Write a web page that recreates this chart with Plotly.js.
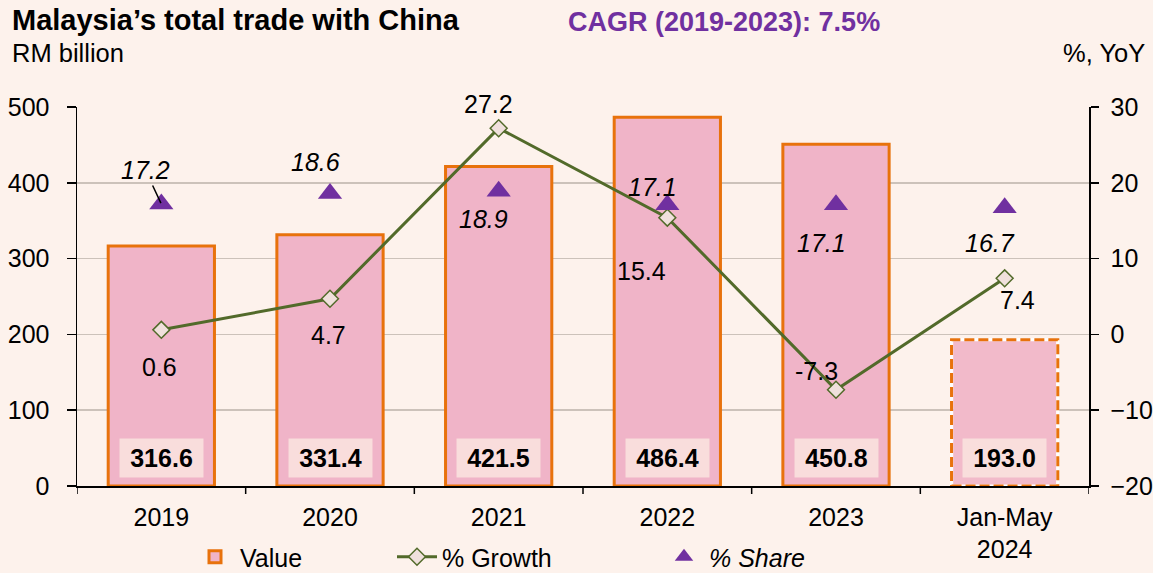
<!DOCTYPE html>
<html>
<head>
<meta charset="utf-8">
<script src="https://cdn.plot.ly/plotly-3.0.1.min.js"></script>
<style>html,body{margin:0;padding:0;background:#FDF2EC;}#chart{width:1153px;height:573px;}</style>
</head>
<body>
<div id="chart"></div>
<script>
// ---- data ----
const categories = ["2019", "2020", "2021", "2022", "2023", "Jan-May<br>2024"];
const tradeValue = [316.6, 331.4, 421.5, 486.4, 450.8, 193.0];
const growthPct = [0.6, 4.7, 27.2, 15.4, -7.3, 7.4];
const sharePct = [17.2, 18.6, 18.9, 17.1, 17.1, 16.7];
const valueLabels = ["316.6", "331.4", "421.5", "486.4", "450.8", "193.0"];
const growthLabels = ["0.6", "4.7", "27.2", "15.4", "-7.3", "7.4"];
const shareLabels = ["17.2", "18.6", "18.9", "17.1", "17.1", "16.7"];
const leftTicks = [0, 100, 200, 300, 400, 500];
const rightTicks = [-20, -10, 0, 10, 20, 30];

// ---- style ----
const FONT = "Liberation Sans, Arial, sans-serif";
const FS = 25;
const BG = "#FDF2EC";
const BAR_FILL = "#F0B4C8";
const BAR_LINE = "#E8720C";
const GREEN = "#526A2A";
const PURPLE = "#7030A0";
const BARW = 0.63;
const nFull = tradeValue.length - 1;

// offsets of labels (pixels)
const growthOff = [[-2, -37], [-2, -36], [-10, 24], [-26, -53], [-20, 19], [13, -22]];
const shareOff = [[-16, 34], [-15, 31], [-15, -28], [-15, 18], [-15, -38], [-15, -35]];

const idx = categories.map((_, i) => i);

const traces = [
  {
    type: "bar", x: idx.slice(0, nFull), y: tradeValue.slice(0, nFull), width: BARW,
    name: "Value", legend: "legend",
    marker: {color: BAR_FILL, line: {color: BAR_LINE, width: 3}},
    hoverinfo: "skip"
  },
  {
    type: "bar", x: [nFull], y: [tradeValue[nFull]], width: BARW - 0.02,
    name: "Value", showlegend: false,
    marker: {color: "#F2BACA", line: {width: 0}}, hoverinfo: "skip"
  },
  {
    type: "scatter", mode: "lines+markers", x: idx, y: growthPct, yaxis: "y2",
    name: "% Growth", legend: "legend2",
    line: {color: GREEN, width: 3},
    marker: {symbol: "diamond", size: 13, color: "#F0E0DC", line: {color: GREEN, width: 1.5}},
    hoverinfo: "skip"
  },
  {
    type: "scatter", mode: "markers", x: idx, y: sharePct, yaxis: "y2",
    name: "<i>% Share</i>", legend: "legend3",
    marker: {symbol: "triangle-up", size: 21, color: PURPLE},
    hoverinfo: "skip"
  }
];

const annotations = [];
// value boxes
idx.forEach(i => {
  annotations.push({
    x: i, y: 0, xref: "x", yref: "y", yanchor: "middle", yshift: 28,
    text: "<b>" + valueLabels[i] + "</b>", showarrow: false,
    font: {family: FONT, size: FS, color: "#000"},
    bgcolor: "rgba(251,232,226,0.78)", borderpad: 4, width: 75, height: 30
  });
});
// growth labels
idx.forEach(i => {
  annotations.push({
    x: i, y: growthPct[i], xref: "x", yref: "y2",
    xshift: growthOff[i][0], yshift: growthOff[i][1],
    text: growthLabels[i], showarrow: false,
    font: {family: FONT, size: FS, color: "#000"}
  });
});
// share labels
idx.forEach(i => {
  if (i === 0) {
    annotations.push({
      x: i, y: sharePct[i], xref: "x", yref: "y2",
      ax: shareOff[i][0], ay: -shareOff[i][1], axref: "pixel", ayref: "pixel",
      text: "<i>" + shareLabels[i] + "</i>", showarrow: true,
      arrowhead: 0, arrowwidth: 1.5, arrowcolor: "#000", standoff: 1,
      font: {family: FONT, size: FS, color: "#000"}
    });
  } else {
    annotations.push({
      x: i, y: sharePct[i], xref: "x", yref: "y2",
      xshift: shareOff[i][0], yshift: shareOff[i][1],
      text: "<i>" + shareLabels[i] + "</i>", showarrow: false,
      font: {family: FONT, size: FS, color: "#000"}
    });
  }
});
// titles
const L = 77, R = 1089, T = 107, B = 486;
const px = v => (v - L) / (R - L);
const py = v => (B - v) / (B - T);
annotations.push(
  {xref: "paper", yref: "paper", x: px(10), y: py(20), xanchor: "left", yanchor: "middle",
   text: "<b>Malaysia’s total trade with China</b>", showarrow: false,
   font: {family: FONT, size: 29, color: "#000"}},
  {xref: "paper", yref: "paper", x: px(566), y: py(22), xanchor: "left", yanchor: "middle",
   text: "<b>CAGR (2019-2023): 7.5%</b>", showarrow: false,
   font: {family: FONT, size: 27, color: PURPLE}},
  {xref: "paper", yref: "paper", x: px(10), y: py(53), xanchor: "left", yanchor: "middle",
   text: "RM billion", showarrow: false,
   font: {family: FONT, size: 25.5, color: "#000"}},
  {xref: "paper", yref: "paper", x: px(1147), y: py(53), xanchor: "right", yanchor: "middle",
   text: "%, YoY", showarrow: false,
   font: {family: FONT, size: 25.5, color: "#000"}}
);

const shapes = [
  {
    type: "rect", xref: "x", yref: "y",
    x0: nFull - BARW / 2, x1: nFull + BARW / 2, y0: 0, y1: tradeValue[nFull],
    line: {color: "#FFFFFF", width: 3}, fillcolor: "rgba(0,0,0,0)"
  },
  {
    type: "rect", xref: "x", yref: "y",
    x0: nFull - BARW / 2, x1: nFull + BARW / 2, y0: 0, y1: tradeValue[nFull],
    line: {color: BAR_LINE, width: 3, dash: "10px,4px"}, fillcolor: "rgba(0,0,0,0)"
  }
];

const legendBase = {
  orientation: "h", yanchor: "middle", xanchor: "left", bgcolor: "rgba(0,0,0,0)",
  font: {family: FONT, size: FS, color: "#000"}, itemwidth: 40
};

const layout = {
  width: 1153, height: 573,
  paper_bgcolor: BG, plot_bgcolor: BG,
  margin: {l: L, r: 1153 - R, t: T, b: 573 - B, autoexpand: false},
  showlegend: true,
  xaxis: {
    type: "linear", range: [-0.5, 5.5], tickmode: "array", tickvals: idx, ticktext: categories,
    showgrid: false, zeroline: false, showline: true, linecolor: "#000", linewidth: 1.5,
    ticks: "", tickfont: {family: FONT, size: FS, color: "#000"}, ticklabelstandoff: 8,
    automargin: false
  },
  yaxis: {
    range: [0, 500], tickmode: "array", tickvals: leftTicks, ticks: "outside", ticklen: 9,
    tickcolor: "#000", tickwidth: 1.5, showline: true, linecolor: "#000", linewidth: 1.5,
    showgrid: true, gridcolor: "#CCC2BA", gridwidth: 1.5, zeroline: false,
    tickfont: {family: FONT, size: FS, color: "#000"}, ticklabelstandoff: 12, automargin: false
  },
  yaxis2: {
    overlaying: "y", side: "right", range: [-20, 30], tickmode: "array", tickvals: rightTicks,
    ticks: "outside", ticklen: 8, tickcolor: "#000", tickwidth: 1.5,
    showline: true, linecolor: "#000", linewidth: 1.5, showgrid: false, zeroline: false,
    tickfont: {family: FONT, size: FS, color: "#000"}, ticklabelstandoff: 7, automargin: false
  },
  legend: Object.assign({}, legendBase, {x: px(190), y: py(557)}),
  legend2: Object.assign({}, legendBase, {x: px(392), y: py(557)}),
  legend3: Object.assign({}, legendBase, {x: px(659), y: py(557)}),
  annotations: annotations,
  shapes: shapes
};

// category boundary ticks on x axis
idx.slice(0, -1).concat([-1, 5]).forEach(i => {
  shapes.push({
    type: "line", xref: "x", yref: "paper", x0: i + 0.5, x1: i + 0.5, y0: 0, y1: -8 / (B - T),
    line: {color: "#000", width: 1.5}
  });
});

Plotly.newPlot("chart", traces, layout, {staticPlot: true, displayModeBar: false});
</script>
</body>
</html>
